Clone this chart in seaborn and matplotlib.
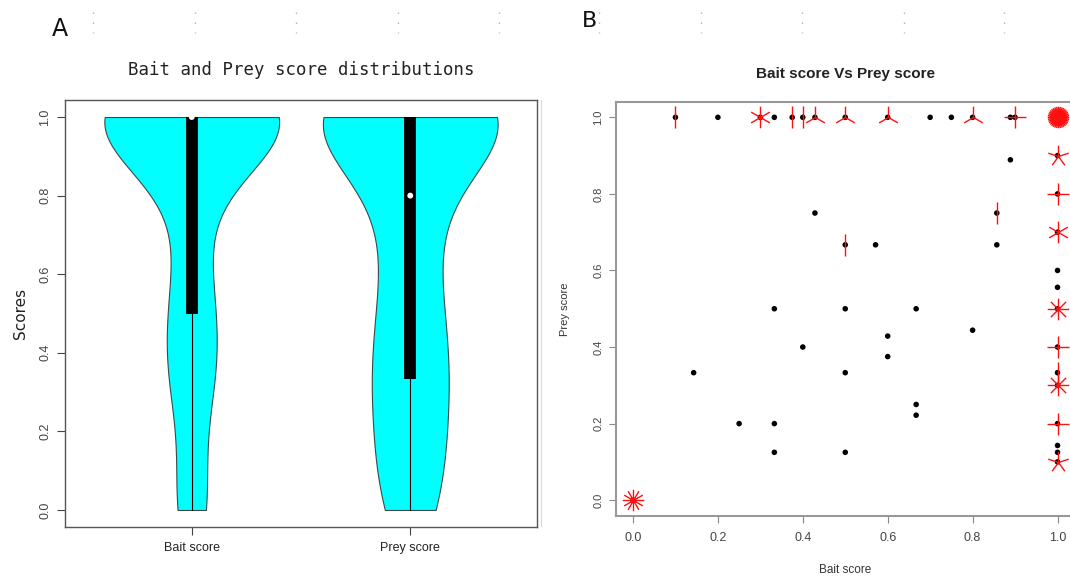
import numpy as np
import pandas as pd
import matplotlib
matplotlib.use("Agg")
import matplotlib.pyplot as plt
from matplotlib.path import Path
from matplotlib.lines import Line2D
import seaborn as sns

# Distinct (bait, prey) score pairs and how many interactions share each pair
bait_score = [0.1, 0.2, 0.3, 0.333, 0.375, 0.4, 0.4286, 0.5, 0.6, 0.7, 0.75, 0.8, 0.889, 0.9, 1.0,
              1.0, 1.0, 1.0, 1.0, 1.0, 1.0, 1.0, 1.0, 1.0, 1.0, 1.0, 1.0, 1.0,
              0.857, 0.5, 0.4286, 0.5714, 0.857, 0.889, 0.333, 0.5, 0.667, 0.6, 0.6, 0.8,
              0.4, 0.1429, 0.5, 0.667, 0.667, 0.25, 0.333, 0.333, 0.5, 0.0]
prey_score = [1.0, 1.0, 1.0, 1.0, 1.0, 1.0, 1.0, 1.0, 1.0, 1.0, 1.0, 1.0, 1.0, 1.0, 1.0,
              0.9, 0.8, 0.7, 0.6, 0.556, 0.5, 0.4, 0.333, 0.3, 0.2, 0.1429, 0.125, 0.1,
              0.75, 0.667, 0.75, 0.667, 0.667, 0.889, 0.5, 0.5, 0.5, 0.4286, 0.375, 0.444,
              0.4, 0.333, 0.333, 0.25, 0.222, 0.2, 0.2, 0.125, 0.125, 0.0]
pair_count = [2, 1, 6, 1, 2, 2, 3, 3, 3, 1, 1, 3, 1, 4, 36,
              5, 4, 6, 1, 1, 8, 4, 2, 8, 4, 1, 1, 5,
              2, 2, 1, 1, 1, 1, 1, 1, 1, 1, 1, 1,
              1, 1, 1, 1, 1, 1, 1, 1, 1, 12]

group_labels = ["Bait score", "Prey score"]
score_ticks = [0.0, 0.2, 0.4, 0.6, 0.8, 1.0]

pairs = pd.DataFrame({"bait": bait_score, "prey": prey_score, "n": pair_count})
expanded = pairs.loc[pairs.index.repeat(pairs["n"])]
long = pd.DataFrame({
    "variable": np.repeat(group_labels, len(expanded)),
    "value": np.concatenate([expanded["bait"].to_numpy(), expanded["prey"].to_numpy()]),
})

sns.set_style("white")
plt.rcParams["font.family"] = ["Liberation Sans", "DejaVu Sans"]

W, H = 1070, 578
fig = plt.figure(figsize=(W / 100, H / 100), dpi=100)


def frac_box(x0, y0, x1, y1):
    return [x0 / W, 1 - y1 / H, (x1 - x0) / W, (y1 - y0) / H]


tick_col = "#444444"

# ---------------- Panel A: violins ----------------
axA = fig.add_axes(frac_box(65, 100, 537, 527))
sns.violinplot(data=long, x="variable", y="value", order=group_labels, ax=axA,
               cut=0, inner=None, color="#00FFFF", saturation=1, linecolor="#3a4a4a",
               linewidth=0.8, density_norm="width", width=0.8, bw_adjust=1.06)
for i, lab in enumerate(group_labels):
    vals = long.loc[long["variable"] == lab, "value"].to_numpy()
    q1, med, q3 = np.percentile(vals, [25, 50, 75])
    iqr = q3 - q1
    lo = vals[vals >= q1 - 1.5 * iqr].min()
    hi = vals[vals <= q3 + 1.5 * iqr].max()
    axA.plot([i, i], [lo, hi], color="black", lw=0.8, zorder=3)
    axA.plot([i, i], [q1, q3], color="black", lw=8.5, solid_capstyle="butt", zorder=4)
    axA.scatter([i], [med], s=18, color="white", edgecolor="none", zorder=5)

axA.set_xlim(-0.58, 1.58)
axA.set_ylim(-0.0433, 1.0433)
axA.set_yticks(score_ticks)
axA.set_yticklabels([f"{t:.1f}" for t in score_ticks], rotation=90, va="center",
                    fontsize=9, color=tick_col)
axA.set_xticks([0, 1])
axA.set_xticklabels(group_labels, fontsize=9, color="#222222")
axA.tick_params(axis="both", direction="out", length=6, width=0.8, color=tick_col,
                left=True, bottom=True)
axA.tick_params(axis="y", pad=4)
axA.tick_params(axis="x", pad=5)
axA.set_xlabel("")
axA.set_ylabel("Scores", fontsize=11, family="DejaVu Sans", color="#222222", labelpad=8)
for sp in axA.spines.values():
    sp.set_color("#555555")
    sp.set_linewidth(1.0)
axA.set_title("Bait and Prey score distributions", family="DejaVu Sans Mono",
              fontsize=12.5, color="#222222", pad=18)

# ---------------- Panel B: sunflower scatter ----------------
axB = fig.add_axes(frac_box(616, 102, 1074.5, 515.5))
sns.scatterplot(data=pairs, x="bait", y="prey", ax=axB, color="black", s=16,
                edgecolor="none", zorder=3)


def petal_path(n):
    verts, codes = [], []
    for k in range(1, n + 1):
        a = 2 * np.pi * k / n
        verts += [(0.0, 0.0), (np.sin(a), np.cos(a))]
        codes += [Path.MOVETO, Path.LINETO]
    return Path(verts, codes)


for _, row in pairs[pairs["n"] > 1].iterrows():
    axB.plot([row["bait"]], [row["prey"]], ls="", marker=petal_path(int(row["n"])),
             ms=15.5, mfc="none", mec="#FF1010", mew=1.0, zorder=4)

axB.set_xlim(-0.04, 1.04)
axB.set_ylim(-0.04, 1.04)
axB.set_xticks(score_ticks)
axB.set_xticklabels([f"{t:.1f}" for t in score_ticks], fontsize=9, color=tick_col)
axB.set_yticks(score_ticks)
axB.set_yticklabels([f"{t:.1f}" for t in score_ticks], rotation=90, va="center",
                    fontsize=8, color=tick_col)
axB.tick_params(axis="both", direction="out", length=5, width=0.8, color="#888888",
                left=True, bottom=True)
axB.tick_params(axis="x", pad=7)
axB.tick_params(axis="y", pad=4)
axB.set_xlabel("Bait score", fontsize=8.5, color="#333333", labelpad=14)
axB.set_ylabel("Prey score", fontsize=8, color="#333333", labelpad=17)
for sp in axB.spines.values():
    sp.set_color("#999999")
    sp.set_linewidth(1.5)
axB.set_title("Bait score Vs Prey score", fontsize=11, fontweight="bold",
              color="#222222", pad=17)

# Panel letters and separator marks
fig.text(60 / W, 1 - 29 / H, "A", fontsize=17, family="DejaVu Sans", ha="center",
         va="center", color="#111111")
fig.text(590 / W, 1 - 21 / H, "B", fontsize=16, family="DejaVu Sans", ha="center",
         va="center", color="#111111")
for xm in [93, 195, 296, 398, 499, 599, 701, 802, 904, 1004]:
    fig.add_artist(Line2D([xm / W, xm / W], [1 - 11.5 / H, 1 - 33 / H], ls=(0, (1, 6.2)),
                          lw=1, color="#b0b0b0", transform=fig.transFigure))
fig.add_artist(Line2D([541 / W, 541 / W], [1 - 100 / H, 1 - 526 / H], lw=0.8,
                      color="#d8d8d8", transform=fig.transFigure))

fig.savefig("out.png", dpi=100)
